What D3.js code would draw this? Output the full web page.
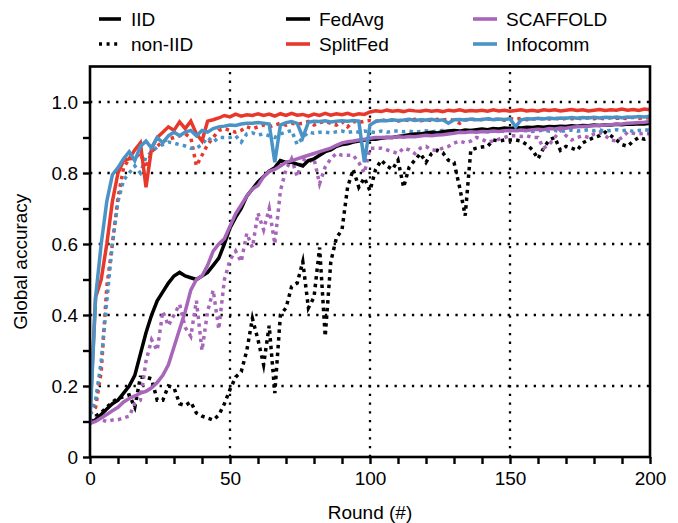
<!DOCTYPE html>
<html>
<head>
<meta charset="utf-8">
<script src="https://cdn.jsdelivr.net/npm/d3@7"></script>
<style>
  body { margin: 0; background: #fff; }
  svg { display: block; }
  text { font-family: "Liberation Sans", Arial, Helvetica, sans-serif; fill: #000; }
</style>
</head>
<body>
<svg id="chart" width="678" height="523"></svg>
<script>
// Global accuracy per training round (sampled every 2 rounds, 0..200)
const rounds = d3.range(0, 201, 2);

const fedavgIID = [
  0.095, 0.105, 0.12, 0.135, 0.15, 0.16, 0.18, 0.20, 0.23, 0.29,
  0.35, 0.40, 0.44, 0.465, 0.49, 0.51, 0.52, 0.51, 0.505, 0.50,
  0.51, 0.52, 0.54, 0.56, 0.60, 0.645, 0.675, 0.70, 0.735, 0.755,
  0.775, 0.79, 0.805, 0.815, 0.835, 0.83, 0.83, 0.825, 0.82, 0.835,
  0.84, 0.85, 0.86, 0.865, 0.875, 0.88, 0.882, 0.887, 0.89, 0.893,
  0.895, 0.895, 0.898, 0.90, 0.90, 0.903, 0.905, 0.908, 0.91, 0.91,
  0.913, 0.915, 0.913, 0.916, 0.918, 0.92, 0.918, 0.921, 0.92, 0.922,
  0.924, 0.922, 0.925, 0.924, 0.927, 0.925, 0.928, 0.927, 0.929, 0.928,
  0.93, 0.929, 0.931, 0.93, 0.932, 0.931, 0.933, 0.932, 0.934, 0.933,
  0.935, 0.934, 0.936, 0.935, 0.937, 0.936, 0.938, 0.937, 0.939, 0.938,
  0.94
];

const splitfedIID = [
  0.12, 0.45, 0.50, 0.60, 0.72, 0.80, 0.835, 0.84, 0.865, 0.885,
  0.76, 0.87, 0.90, 0.915, 0.93, 0.92, 0.944, 0.925, 0.946, 0.91,
  0.89, 0.946, 0.95, 0.955, 0.962, 0.958, 0.966, 0.96, 0.964, 0.962,
  0.967, 0.962, 0.966, 0.96, 0.967, 0.962, 0.968, 0.963, 0.965, 0.96,
  0.966, 0.962, 0.968, 0.963, 0.967, 0.964, 0.968, 0.963, 0.967, 0.965,
  0.972, 0.975, 0.973, 0.977, 0.974, 0.976, 0.973, 0.977, 0.975, 0.974,
  0.977, 0.974, 0.976, 0.973, 0.977, 0.975, 0.978, 0.974, 0.976, 0.975,
  0.977, 0.974, 0.978, 0.975, 0.977, 0.974, 0.976, 0.978, 0.975, 0.977,
  0.974, 0.978, 0.976, 0.978, 0.975, 0.977, 0.979, 0.976, 0.978, 0.975,
  0.977, 0.979, 0.976, 0.978, 0.977, 0.98, 0.977, 0.979, 0.976, 0.98,
  0.978
];

const scaffoldIID = [
  0.095, 0.10, 0.11, 0.12, 0.13, 0.14, 0.155, 0.165, 0.172, 0.18,
  0.185, 0.195, 0.21, 0.23, 0.26, 0.31, 0.36, 0.41, 0.47, 0.50,
  0.51, 0.54, 0.58, 0.60, 0.615, 0.65, 0.685, 0.71, 0.735, 0.755,
  0.765, 0.79, 0.805, 0.81, 0.82, 0.83, 0.835, 0.84, 0.845, 0.85,
  0.855, 0.86, 0.865, 0.87, 0.878, 0.885, 0.888, 0.89, 0.893, 0.895,
  0.898, 0.90, 0.90, 0.901, 0.90, 0.902, 0.901, 0.903, 0.902, 0.904,
  0.906, 0.905, 0.907, 0.908, 0.91, 0.912, 0.915, 0.914, 0.916, 0.915,
  0.917, 0.916, 0.918, 0.917, 0.919, 0.92, 0.919, 0.921, 0.92, 0.922,
  0.923, 0.922, 0.925, 0.924, 0.927, 0.926, 0.929, 0.93, 0.931, 0.932,
  0.933, 0.934, 0.935, 0.936, 0.937, 0.938, 0.94, 0.941, 0.942, 0.943,
  0.945
];

const infocommIID = [
  0.10, 0.45, 0.60, 0.72, 0.795, 0.815, 0.84, 0.86, 0.835, 0.875,
  0.89, 0.87, 0.90, 0.885, 0.905, 0.915, 0.905, 0.915, 0.92, 0.905,
  0.92, 0.915, 0.925, 0.93, 0.932, 0.935, 0.934, 0.938, 0.94, 0.94,
  0.942, 0.94, 0.938, 0.83, 0.935, 0.942, 0.945, 0.94, 0.90, 0.943,
  0.946, 0.945, 0.947, 0.944, 0.946, 0.947, 0.946, 0.948, 0.946, 0.83,
  0.935, 0.945, 0.948, 0.947, 0.95, 0.948, 0.949, 0.951, 0.948, 0.95,
  0.949, 0.951, 0.948, 0.95, 0.94, 0.95, 0.951, 0.949, 0.952, 0.95,
  0.951, 0.953, 0.95, 0.952, 0.951, 0.953, 0.93, 0.95, 0.953, 0.952,
  0.954, 0.952, 0.955, 0.953, 0.955, 0.954, 0.956, 0.954, 0.956, 0.955,
  0.957, 0.955, 0.957, 0.956, 0.958, 0.956, 0.958, 0.957, 0.959, 0.958,
  0.96
];

const fedavgNonIID = [
  0.10, 0.115, 0.125, 0.14, 0.155, 0.165, 0.17, 0.175, 0.14, 0.225,
  0.225, 0.22, 0.16, 0.16, 0.20, 0.195, 0.15, 0.145, 0.155, 0.124,
  0.115, 0.11, 0.104, 0.118, 0.15, 0.19, 0.225, 0.24, 0.30, 0.39,
  0.33, 0.26, 0.37, 0.18, 0.40, 0.42, 0.48, 0.49, 0.55, 0.42,
  0.45, 0.59, 0.34, 0.55, 0.617, 0.64, 0.76, 0.81, 0.76, 0.786,
  0.75, 0.81, 0.836, 0.82, 0.81, 0.836, 0.76, 0.817, 0.836, 0.855,
  0.83, 0.855, 0.864, 0.857, 0.836, 0.83, 0.76, 0.68, 0.865, 0.87,
  0.873, 0.875, 0.893, 0.89, 0.893, 0.893, 0.893, 0.89, 0.88, 0.865,
  0.84, 0.87, 0.893, 0.90, 0.864, 0.875, 0.87, 0.864, 0.885, 0.893,
  0.90, 0.905, 0.915, 0.905, 0.893, 0.88, 0.875, 0.89, 0.90, 0.895,
  0.90
];

const splitfedNonIID = [
  0.12, 0.14, 0.24, 0.48, 0.60, 0.73, 0.815, 0.84, 0.842, 0.856,
  0.814, 0.86, 0.875, 0.89, 0.895, 0.90, 0.905, 0.91, 0.90, 0.82,
  0.85, 0.88, 0.90, 0.92, 0.925, 0.92, 0.915, 0.92, 0.93, 0.925,
  0.93, 0.935, 0.93, 0.935, 0.94, 0.935, 0.94, 0.938, 0.94, 0.945,
  0.935, 0.942, 0.945, 0.94, 0.935, 0.945, 0.93, 0.945, 0.942, 0.946,
  0.948, 0.945, 0.95, 0.947, 0.949, 0.946, 0.95, 0.948, 0.951, 0.947,
  0.95, 0.948, 0.951, 0.949, 0.952, 0.948, 0.94, 0.95, 0.952, 0.949,
  0.951, 0.953, 0.95, 0.952, 0.949, 0.953, 0.951, 0.954, 0.95, 0.953,
  0.951, 0.954, 0.952, 0.955, 0.951, 0.954, 0.953, 0.955, 0.952, 0.956,
  0.953, 0.955, 0.952, 0.956, 0.954, 0.955, 0.953, 0.957, 0.954, 0.956,
  0.955
];

const scaffoldNonIID = [
  0.095, 0.11, 0.105, 0.10, 0.104, 0.105, 0.11, 0.115, 0.15, 0.16,
  0.27, 0.33, 0.30, 0.41, 0.37, 0.40, 0.43, 0.365, 0.34, 0.44,
  0.30, 0.41, 0.47, 0.36, 0.50, 0.555, 0.58, 0.55, 0.63, 0.59,
  0.687, 0.64, 0.70, 0.60, 0.75, 0.81, 0.84, 0.79, 0.84, 0.83,
  0.84, 0.77, 0.817, 0.84, 0.855, 0.85, 0.85, 0.85, 0.83, 0.80,
  0.87, 0.87, 0.87, 0.865, 0.86, 0.855, 0.87, 0.865, 0.855, 0.87,
  0.875, 0.865, 0.864, 0.87, 0.875, 0.884, 0.89, 0.885, 0.89, 0.90,
  0.895, 0.887, 0.89, 0.895, 0.90, 0.905, 0.905, 0.903, 0.905, 0.90,
  0.90, 0.87, 0.88, 0.90, 0.92, 0.905, 0.893, 0.90, 0.905, 0.90,
  0.91, 0.915, 0.905, 0.893, 0.89, 0.90, 0.915, 0.912, 0.91, 0.912,
  0.91
];

const infocommNonIID = [
  0.12, 0.16, 0.27, 0.44, 0.60, 0.72, 0.78, 0.80, 0.82, 0.80,
  0.845, 0.86, 0.873, 0.88, 0.887, 0.884, 0.88, 0.876, 0.87, 0.87,
  0.88, 0.90, 0.887, 0.90, 0.90, 0.90, 0.905, 0.887, 0.91, 0.913,
  0.907, 0.91, 0.905, 0.90, 0.91, 0.915, 0.92, 0.88, 0.90, 0.915,
  0.912, 0.915, 0.915, 0.913, 0.916, 0.918, 0.914, 0.917, 0.915, 0.918,
  0.916, 0.914, 0.918, 0.915, 0.917, 0.919, 0.916, 0.918, 0.915, 0.917,
  0.919, 0.916, 0.918, 0.92, 0.917, 0.919, 0.916, 0.918, 0.92, 0.917,
  0.919, 0.916, 0.918, 0.92, 0.917, 0.919, 0.921, 0.918, 0.92, 0.917,
  0.919, 0.921, 0.918, 0.92, 0.917, 0.919, 0.921, 0.918, 0.92, 0.922,
  0.919, 0.921, 0.918, 0.92, 0.922, 0.919, 0.921, 0.917, 0.92, 0.922,
  0.92
];

const xTicksMajor = [0, 50, 100, 150, 200];
const yTicksMajor = [0, 0.2, 0.4, 0.6, 0.8, 1.0];

const methods = ["FedAvg", "SplitFed", "SCAFFOLD", "Infocomm"];
const colors = { FedAvg: "#000000", SplitFed: "#e8382b", SCAFFOLD: "#a766b9", Infocomm: "#4a93c7" };

const series = [
  { method: "FedAvg",   iid: false, values: fedavgNonIID },
  { method: "SCAFFOLD", iid: false, values: scaffoldNonIID },
  { method: "SplitFed", iid: false, values: splitfedNonIID },
  { method: "Infocomm", iid: false, values: infocommNonIID },
  { method: "FedAvg",   iid: true,  values: fedavgIID },
  { method: "SCAFFOLD", iid: true,  values: scaffoldIID },
  { method: "SplitFed", iid: true,  values: splitfedIID },
  { method: "Infocomm", iid: true,  values: infocommIID }
];

const svg = d3.select("#chart");
const x = d3.scaleLinear().domain([0, 200]).range([90, 650]);
const y = d3.scaleLinear().domain([0, 1.1]).range([457, 66.5]);

const FONT = 19;
const DOT = "3.5,4.2";

// dotted reference grid
const grid = svg.append("g");
grid.selectAll("line.h").data(yTicksMajor.filter(d => d > 0)).join("line")
  .attr("x1", x(0)).attr("x2", x(200))
  .attr("y1", d => y(d)).attr("y2", d => y(d))
  .attr("stroke", "#000").attr("stroke-width", 2.3)
  .attr("stroke-dasharray", "2.3,6.4");
grid.selectAll("line.v").data(xTicksMajor.filter(d => d > 0 && d < 200)).join("line")
  .attr("y1", y(0)).attr("y2", y(1.1))
  .attr("x1", d => x(d)).attr("x2", d => x(d))
  .attr("stroke", "#000").attr("stroke-width", 2.3)
  .attr("stroke-dasharray", "2.3,6.4");

// accuracy curves
const line = d3.line().x((d, i) => x(rounds[i])).y(d => y(d));
svg.append("clipPath").attr("id", "plotclip")
  .append("rect").attr("x", x(0)).attr("y", y(1.1)).attr("width", x(200) - x(0)).attr("height", y(0) - y(1.1));
svg.append("g").attr("clip-path", "url(#plotclip)")
  .selectAll("path").data(series).join("path")
  .attr("d", d => line(d.values))
  .attr("fill", "none")
  .attr("stroke", d => colors[d.method])
  .attr("stroke-width", 3.5)
  .attr("stroke-linejoin", "miter")
  .attr("stroke-miterlimit", 6)
  .attr("stroke-dasharray", d => d.iid ? null : DOT);

// frame
svg.append("rect")
  .attr("x", x(0)).attr("y", y(1.1))
  .attr("width", x(200) - x(0)).attr("height", y(0) - y(1.1))
  .attr("fill", "none").attr("stroke", "#000").attr("stroke-width", 2.6);

// axes
const yAxis = d3.axisLeft(y)
  .tickValues(d3.range(0, 11).map(i => i / 10))
  .tickSize(7).tickPadding(5)
  .tickFormat(d => {
    const k = Math.round(d * 10);
    if (k % 2) return "";
    return k === 0 ? "0" : d3.format(".1f")(d);
  });
const gy = svg.append("g").attr("transform", `translate(${x(0)},0)`).call(yAxis);
gy.select(".domain").remove();
gy.selectAll(".tick line").attr("stroke", "#000").attr("stroke-width", 2.4);
gy.selectAll(".tick text").attr("font-size", FONT).attr("fill", "#000");

const xAxis = d3.axisBottom(x)
  .tickValues(d3.range(0, 201, 10))
  .tickSize(7).tickPadding(8)
  .tickFormat(d => xTicksMajor.includes(d) ? String(d) : "");
const gx = svg.append("g").attr("transform", `translate(0,${y(0)})`).call(xAxis);
gx.select(".domain").remove();
gx.selectAll(".tick line").attr("stroke", "#000").attr("stroke-width", 2.4);
gx.selectAll(".tick text").attr("font-size", FONT).attr("fill", "#000");

// axis titles
svg.append("text")
  .attr("x", (x(0) + x(200)) / 2).attr("y", 519)
  .attr("text-anchor", "middle").attr("font-size", FONT)
  .text("Round (#)");
svg.append("text")
  .attr("transform", `translate(27,${(y(0) + y(1.1)) / 2}) rotate(-90)`)
  .attr("text-anchor", "middle").attr("font-size", FONT)
  .text("Global accuracy");

// legend
const legend = svg.append("g");
const rowY = [19, 44];
const styleKeys = [
  { label: "IID", dash: null },
  { label: "non-IID", dash: "3,4.6" }
];
styleKeys.forEach((k, i) => {
  legend.append("line")
    .attr("x1", 99).attr("x2", 121).attr("y1", rowY[i]).attr("y2", rowY[i])
    .attr("stroke", "#000").attr("stroke-width", 3.6)
    .attr("stroke-dasharray", k.dash);
  legend.append("text").attr("x", 131).attr("y", rowY[i] + 7)
    .attr("font-size", FONT).text(k.label);
});
const methodCols = [286, 286, 473, 473];
methods.forEach((m, i) => {
  const lx = methodCols[i];
  const ly = rowY[i % 2];
  legend.append("line")
    .attr("x1", lx).attr("x2", lx + 24).attr("y1", ly).attr("y2", ly)
    .attr("stroke", colors[m]).attr("stroke-width", 3.6);
  legend.append("text").attr("x", lx + 33).attr("y", ly + 7)
    .attr("font-size", FONT).text(m);
});
</script>
</body>
</html>
